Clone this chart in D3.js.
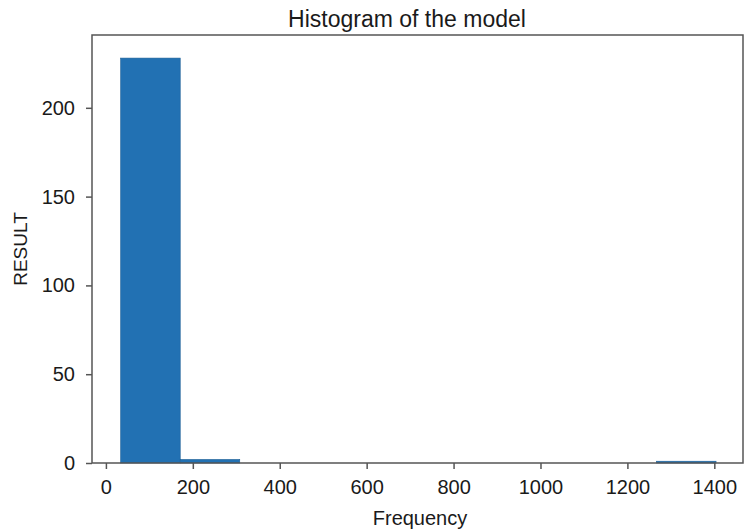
<!DOCTYPE html>
<html>
<head>
<meta charset="utf-8">
<script src="https://cdn.jsdelivr.net/npm/d3@7"></script>
<style>
  body { margin: 0; background: #fff; overflow: hidden; }
  svg { display: block; }
  text { font-family: "Liberation Sans", Arial, sans-serif; fill: #1a1a1a; }
</style>
</head>
<body>
<div id="chart"></div>
<script>
// histogram bins
const binEdges = [34, 171, 308, 445, 582, 719, 856, 993, 1130, 1267, 1404];
const counts = [228, 2, 0, 0, 0, 0, 0, 0, 0, 1];
const xTicks = [0, 200, 400, 600, 800, 1000, 1200, 1400];
const yTicks = [0, 50, 100, 150, 200];

const width = 747, height = 531;
const margin = {top: 35, right: 4, bottom: 68, left: 92};
const innerWidth = width - margin.left - margin.right;
const innerHeight = height - margin.top - margin.bottom;

const svg = d3.select("#chart").append("svg")
    .attr("width", width)
    .attr("height", height);

const g = svg.append("g")
    .attr("transform", `translate(${margin.left},${margin.top})`);

const x = d3.scaleLinear().domain([-32, 1466]).range([0, innerWidth]);
const y = d3.scaleLinear().domain([0, 241]).range([innerHeight, 0]);

const bins = counts.map((c, i) => ({x0: binEdges[i], x1: binEdges[i + 1], n: c}));

g.selectAll("rect.bar")
    .data(bins.filter(d => d.n > 0))
    .enter()
    .append("rect")
    .attr("class", "bar")
    .attr("x", d => x(d.x0))
    .attr("width", d => x(d.x1) - x(d.x0))
    .attr("y", d => y(d.n))
    .attr("height", d => y(0) - y(d.n))
    .attr("fill", "#2271b3")
    .attr("stroke", "#1d5f96")
    .attr("stroke-width", 0.6);

const xAxis = g.append("g")
    .attr("transform", `translate(0,${innerHeight})`)
    .call(d3.axisBottom(x).tickValues(xTicks).tickFormat(d3.format("d"))
        .tickSize(6).tickPadding(11).tickSizeOuter(0));
const yAxis = g.append("g")
    .call(d3.axisLeft(y).tickValues(yTicks).tickFormat(d3.format("d"))
        .tickSize(6).tickPadding(11).tickSizeOuter(0));

[xAxis, yAxis].forEach(a => {
    a.select(".domain").remove();
    a.selectAll("line").attr("stroke", "#555").attr("stroke-width", 1.5);
    a.selectAll("text").style("font-size", "20px").attr("fill", "#1a1a1a");
});

// frame
g.append("rect")
    .attr("x", 0).attr("y", 0)
    .attr("width", innerWidth).attr("height", innerHeight)
    .attr("fill", "none")
    .attr("stroke", "#555")
    .attr("stroke-width", 1.5);

svg.append("text")
    .attr("x", 407)
    .attr("y", 27)
    .attr("text-anchor", "middle")
    .style("font-size", "23px")
    .text("Histogram of the model");

svg.append("text")
    .attr("x", 420)
    .attr("y", 525)
    .attr("text-anchor", "middle")
    .style("font-size", "20px")
    .text("Frequency");

svg.append("text")
    .attr("transform", "rotate(-90)")
    .attr("x", -(margin.top + innerHeight / 2))
    .attr("y", 27)
    .attr("text-anchor", "middle")
    .style("font-size", "19px")
    .text("RESULT");
</script>
</body>
</html>
